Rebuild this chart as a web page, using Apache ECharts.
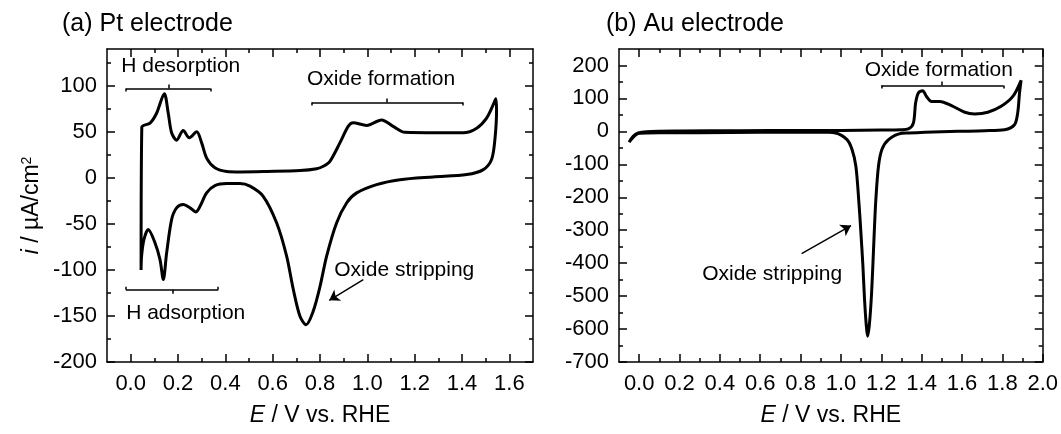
<!DOCTYPE html>
<html>
<head>
<meta charset="utf-8">
<script src="https://cdn.jsdelivr.net/npm/echarts@6.0.0/dist/echarts.min.js"></script>
<style>
  html, body { margin: 0; padding: 0; background: #fff; }
  #chart { width: 1061px; height: 434px; }
</style>
</head>
<body>
<div id="chart"></div>
<script>
// Cyclic voltammograms, [E (V vs. RHE), i (µA/cm²)] in sweep order
const ptCycle = [
  [0.044, -100], [0.047, 55], [0.082, 59.5], [0.110, 70.5], [0.142, 91.5], [0.159, 70],
  [0.173, 49], [0.194, 41], [0.222, 51.5], [0.248, 43.5], [0.279, 50], [0.300, 38],
  [0.321, 21.5], [0.356, 11], [0.406, 7], [0.462, 6.5], [0.575, 7], [0.716, 8],
  [0.786, 10], [0.814, 12.6], [0.842, 18], [0.884, 38], [0.919, 56], [0.940, 60],
  [0.997, 57], [1.060, 63], [1.109, 56], [1.159, 49.5], [1.293, 49], [1.405, 49],
  [1.462, 54], [1.504, 65], [1.532, 79.5], [1.543, 86],
  [1.546, 74], [1.539, 41.5], [1.525, 20], [1.490, 9], [1.420, 3.6], [1.278, 1],
  [1.138, -2], [1.039, -7.3], [0.955, -16.3], [0.913, -27], [0.870, -49], [0.828, -85],
  [0.800, -118], [0.771, -145], [0.741, -159.5], [0.715, -150], [0.687, -121], [0.659, -85],
  [0.617, -49], [0.560, -20], [0.504, -9], [0.462, -6.2], [0.406, -6.2], [0.356, -8.4],
  [0.321, -16.3], [0.293, -30.9], [0.275, -37], [0.251, -32.6], [0.222, -29], [0.194, -32.6],
  [0.173, -45.3], [0.152, -81.5], [0.138, -110.5], [0.124, -88.8], [0.103, -70.7], [0.074, -56.2],
  [0.056, -67.1], [0.046, -85.2], [0.044, -100]
];

const auCycle = [
  [-0.05, -33], [-0.03, -15], [-0.005, -5], [0.036, -1], [0.2, 1], [0.5, 2], [0.8, 3],
  [1.0, 3], [1.2, 4], [1.3, 5], [1.334, 7.3], [1.359, 25], [1.370, 86], [1.383, 116],
  [1.405, 123.5], [1.424, 106], [1.449, 91], [1.490, 91], [1.548, 78], [1.614, 58],
  [1.663, 53], [1.728, 58], [1.794, 76], [1.852, 106], [1.893, 155],
  [1.885, 116], [1.876, 56], [1.860, 20], [1.811, 5], [1.712, 2], [1.581, 0], [1.416, -3],
  [1.334, -5], [1.301, -6], [1.236, -25], [1.203, -55], [1.186, -106], [1.173, -207],
  [1.165, -308], [1.158, -410], [1.150, -511], [1.140, -592], [1.132, -622], [1.126, -592],
  [1.117, -511], [1.109, -410], [1.099, -308], [1.088, -207], [1.074, -106], [1.055, -55],
  [1.030, -25], [0.973, -5], [0.889, -2], [0.6, -3], [0.3, -4], [0.1, -4], [0.0, -6],
  [-0.03, -18], [-0.05, -33]
];

// Tick positions
const ptXTicks = [0.0, 0.2, 0.4, 0.6, 0.8, 1.0, 1.2, 1.4, 1.6];
const ptXMinor = [0.1, 0.3, 0.5, 0.7, 0.9, 1.1, 1.3, 1.5];
const ptYTicks = [-200, -150, -100, -50, 0, 50, 100];
const ptYMinor = [-175, -125, -75, -25, 25, 75, 125];
const auXTicks = [0.0, 0.2, 0.4, 0.6, 0.8, 1.0, 1.2, 1.4, 1.6, 1.8, 2.0];
const auXMinor = [0.1, 0.3, 0.5, 0.7, 0.9, 1.1, 1.3, 1.5, 1.7, 1.9];
const auYTicks = [-700, -600, -500, -400, -300, -200, -100, 0, 100, 200];
const auYMinor = [-650, -550, -450, -350, -250, -150, -50, 50, 150];

// Region brackets: [start E, end E, level i, centre-mark E, end-mark direction]
const ptBrackets = [
  [-0.020, 0.338, 97, 0.159, -1],
  [0.765, 1.405, 82, 1.084, -1],
  [-0.020, 0.370, -121.5, 0.176, 1]
];
const auBrackets = [
  [1.200, 1.806, 139, 1.502, -1]
];

// Arrows: [tail E, tail i, head E, head i]
const ptArrows = [[0.983, -110.5, 0.839, -133]];
const auArrows = [[0.805, -371, 1.050, -286]];

// Notes: [text, E at left edge, i at middle]
const ptNotes = [
  ['H desorption', -0.040, 121],
  ['Oxide formation', 0.745, 107],
  ['Oxide stripping', 0.860, -100],
  ['H adsorption', -0.019, -147]
];
const auNotes = [
  ['Oxide formation', 1.118, 187],
  ['Oxide stripping', 0.312, -435]
];

const FONT = "'Liberation Sans', Arial, Helvetica, sans-serif";
const BLACK = '#000';
const NOTE_SIZE = 21;

const panels = [
  {
    title: '(a) Pt electrode', titleLeft: 62,
    grid: { left: 107, top: 49, width: 426, height: 313 },
    x: [-0.1, 1.7], y: [-200, 140],
    xTicks: ptXTicks, xMinor: ptXMinor, yTicks: ptYTicks, yMinor: ptYMinor,
    cycle: ptCycle, brackets: ptBrackets, arrows: ptArrows, notes: ptNotes,
    yName: true
  },
  {
    title: '(b) Au electrode', titleLeft: 606,
    grid: { left: 619, top: 49, width: 426, height: 313 },
    x: [-0.1, 2.0], y: [-700, 250],
    xTicks: auXTicks, xMinor: auXMinor, yTicks: auYTicks, yMinor: auYMinor,
    cycle: auCycle, brackets: auBrackets, arrows: auArrows, notes: auNotes,
    yName: false
  }
];

function makeAxis(gridIndex, position, range, ticks, isMinor, withLabels, fmt) {
  return {
    type: 'value',
    gridIndex: gridIndex,
    position: position,
    min: range[0],
    max: range[1],
    axisLine: { show: !isMinor, onZero: false, lineStyle: { color: BLACK, width: 1.5 } },
    axisTick: {
      show: true, inside: true, length: isMinor ? 4 : 8,
      customValues: ticks,
      lineStyle: { color: BLACK, width: 1.5 }
    },
    axisLabel: withLabels ? {
      show: true, customValues: ticks, formatter: fmt,
      color: BLACK, fontSize: 22, fontFamily: FONT,
      margin: position === 'left' ? 10 : 11
    } : { show: false },
    splitLine: { show: false },
    minorTick: { show: false },
    silent: true
  };
}

const xAxes = [], yAxes = [], grids = [], titles = [], series = [];

panels.forEach((p, gi) => {
  grids.push(Object.assign({ containLabel: false }, p.grid));
  titles.push({
    text: p.title, left: p.titleLeft, top: 12, padding: 0,
    textStyle: { fontSize: 25, fontWeight: 'normal', color: BLACK, fontFamily: FONT }
  });

  const xFmt = v => v.toFixed(1);
  const yFmt = v => String(v);

  const xMain = makeAxis(gi, 'bottom', p.x, p.xTicks, false, true, xFmt);
  xMain.name = '{it|E} / V vs. RHE';
  xMain.nameLocation = 'middle';
  xMain.nameGap = 42;
  xMain.nameTextStyle = {
    fontSize: 23, color: BLACK, fontFamily: FONT,
    rich: { it: { fontSize: 23, fontStyle: 'italic', color: BLACK, fontFamily: FONT } }
  };
  const xIndex = xAxes.length;
  xAxes.push(xMain,
    makeAxis(gi, 'bottom', p.x, p.xMinor, true, false),
    makeAxis(gi, 'top', p.x, p.xTicks, false, false),
    makeAxis(gi, 'top', p.x, p.xMinor, true, false));

  const yMain = makeAxis(gi, 'left', p.y, p.yTicks, false, true, yFmt);
  if (p.yName) {
    yMain.name = '{it|i} / µA/cm{sup|2}';
    yMain.nameLocation = 'middle';
    yMain.nameGap = 64;
    yMain.nameTextStyle = {
      fontSize: 23, color: BLACK, fontFamily: FONT,
      rich: {
        it: { fontSize: 23, fontStyle: 'italic', color: BLACK, fontFamily: FONT },
        sup: { fontSize: 14, color: BLACK, fontFamily: FONT, verticalAlign: 'top' }
      }
    };
  }
  const yIndex = yAxes.length;
  yAxes.push(yMain,
    makeAxis(gi, 'left', p.y, p.yMinor, true, false),
    makeAxis(gi, 'right', p.y, p.yTicks, false, false),
    makeAxis(gi, 'right', p.y, p.yMinor, true, false));

  // bracket marks are sized in pixels, converted into current units
  const unitsPerPx = (p.y[1] - p.y[0]) / p.grid.height;
  const endLen = 3 * unitsPerPx;
  const midLen = 4 * unitsPerPx;
  const segs = [];
  p.brackets.forEach(([e1, e2, lvl, mid, dir]) => {
    segs.push([{ coord: [e1, lvl] }, { coord: [e2, lvl] }]);
    segs.push([{ coord: [e1, lvl] }, { coord: [e1, lvl + dir * endLen] }]);
    segs.push([{ coord: [e2, lvl] }, { coord: [e2, lvl + dir * endLen] }]);
    segs.push([{ coord: [mid, lvl] }, { coord: [mid, lvl - dir * midLen] }]);
  });
  p.arrows.forEach(([e1, i1, e2, i2]) => {
    segs.push([
      { coord: [e1, i1], symbol: 'none' },
      { coord: [e2, i2], symbol: 'arrow', symbolSize: 10 }
    ]);
  });

  series.push({
    type: 'line',
    xAxisIndex: xIndex, yAxisIndex: yIndex,
    data: p.cycle,
    showSymbol: false, symbol: 'none',
    smooth: 0.3,
    lineStyle: { color: BLACK, width: 3 },
    silent: true,
    z: 3,
    markLine: {
      silent: true,
      symbol: ['none', 'none'],
      label: { show: false },
      lineStyle: { color: BLACK, width: 1.5, type: 'solid' },
      emphasis: { disabled: true },
      data: segs
    }
  });
});

const chart = echarts.init(document.getElementById('chart'), null, { renderer: 'canvas' });
chart.setOption({
  backgroundColor: '#fff',
  animation: false,
  textStyle: { fontFamily: FONT },
  title: titles,
  grid: grids,
  xAxis: xAxes,
  yAxis: yAxes,
  series: series
});

// Notes placed at data coordinates through each panel's scales
const noteGraphics = [];
panels.forEach((p, gi) => {
  p.notes.forEach(([text, e, i]) => {
    const pt = chart.convertToPixel({ gridIndex: gi }, [e, i]);
    noteGraphics.push({
      type: 'text', x: pt[0], y: pt[1], silent: true, z: 10,
      style: {
        text: text, fill: BLACK, font: NOTE_SIZE + 'px ' + FONT,
        textAlign: 'left', textVerticalAlign: 'middle'
      }
    });
  });
});
chart.setOption({ graphic: noteGraphics });
</script>
</body>
</html>
